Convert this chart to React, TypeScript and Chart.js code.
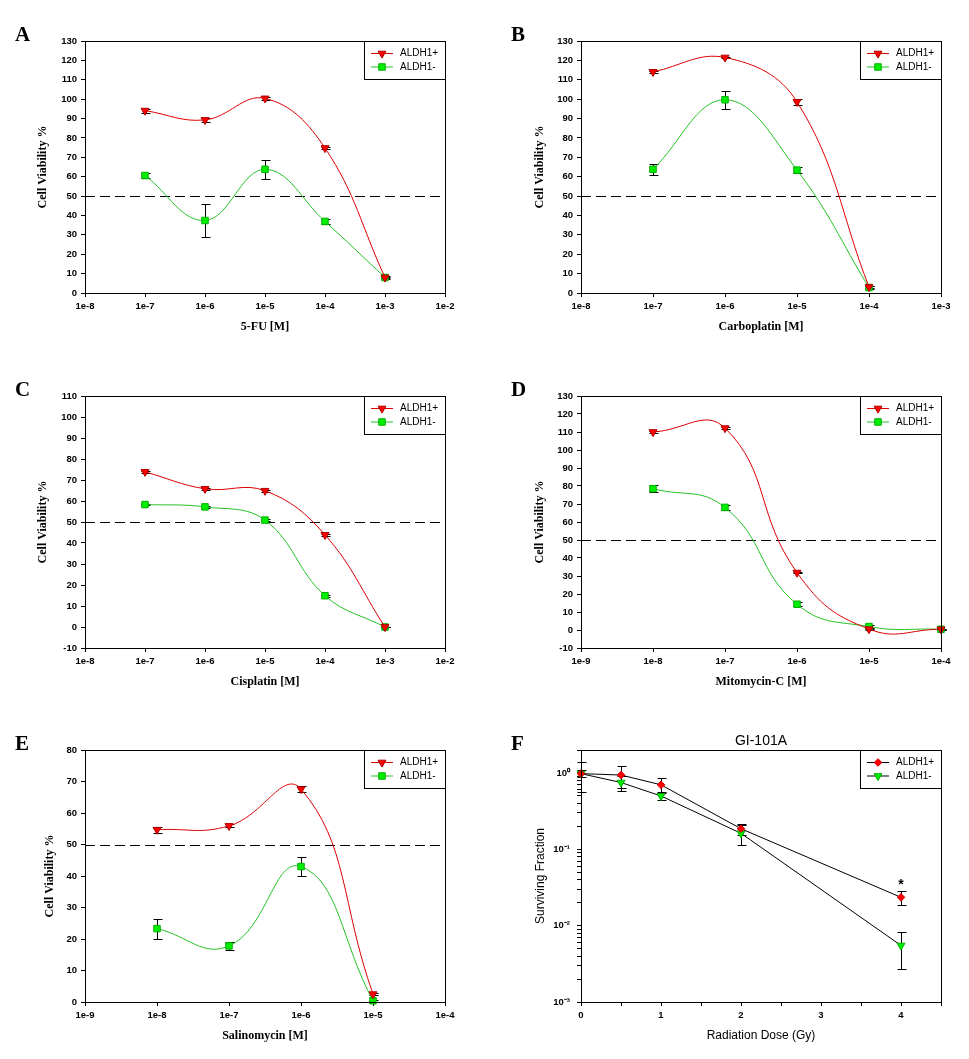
import React, { useEffect, useRef } from 'react';
import { Chart, registerables } from 'chart.js';
import { drawPoint } from 'chart.js/helpers';

Chart.register(...registerables);

// ---------------- DATA ----------------
const SERIES_LABELS = ['ALDH1+', 'ALDH1-'];
const HALF_VIABILITY = 50;

// A: 5-FU
const FU_CONC = [1e-7, 1e-6, 1e-5, 1e-4, 1e-3];
const FU_POS = [94.1, 89.3, 100.4, 74.8, 8.0];
const FU_POS_ERR = [1.0, 1.1, 0.8, 0.6, 0.4];
const FU_NEG = [60.6, 37.4, 63.8, 36.9, 8.0];
const FU_NEG_ERR = [1.2, 8.5, 4.8, 1.2, 0.6];
const FU_X_TICKS = [1e-8, 1e-7, 1e-6, 1e-5, 1e-4, 1e-3, 1e-2];
const FU_X_LABELS = ['1e-8', '1e-7', '1e-6', '1e-5', '1e-4', '1e-3', '1e-2'];

// B: Carboplatin
const CARBO_CONC = [1e-7, 1e-6, 1e-5, 1e-4];
const CARBO_POS = [114.1, 121.5, 98.6, 3.1];
const CARBO_POS_ERR = [0.6, 0.5, 1.5, 0.5];
const CARBO_NEG = [63.8, 99.7, 63.4, 2.8];
const CARBO_NEG_ERR = [2.8, 4.6, 1.5, 0.6];
const CARBO_X_TICKS = [1e-8, 1e-7, 1e-6, 1e-5, 1e-4, 1e-3];
const CARBO_X_LABELS = ['1e-8', '1e-7', '1e-6', '1e-5', '1e-4', '1e-3'];

// C: Cisplatin
const CIS_CONC = [1e-7, 1e-6, 1e-5, 1e-4, 1e-3];
const CIS_POS = [73.9, 65.8, 64.9, 43.9, 0.0];
const CIS_POS_ERR = [0.4, 0.5, 0.4, 0.5, 0.2];
const CIS_NEG = [58.3, 57.2, 50.9, 14.9, 0.0];
const CIS_NEG_ERR = [0.4, 0.4, 0.5, 0.4, 0.2];
const CIS_X_TICKS = [1e-8, 1e-7, 1e-6, 1e-5, 1e-4, 1e-3, 1e-2];
const CIS_X_LABELS = ['1e-8', '1e-7', '1e-6', '1e-5', '1e-4', '1e-3', '1e-2'];

// D: Mitomycin-C
const MITO_CONC = [1e-8, 1e-7, 1e-6, 1e-5, 1e-4];
const MITO_POS = [110.0, 112.2, 31.9, 0.5, 0.4];
const MITO_POS_ERR = [0.8, 0.6, 0.5, 0.3, 0.2];
const MITO_NEG = [78.5, 68.1, 14.3, 1.9, 0.4];
const MITO_NEG_ERR = [2.0, 1.5, 1.0, 1.0, 0.3];
const MITO_X_TICKS = [1e-9, 1e-8, 1e-7, 1e-6, 1e-5, 1e-4];
const MITO_X_LABELS = ['1e-9', '1e-8', '1e-7', '1e-6', '1e-5', '1e-4'];

// E: Salinomycin
const SALI_CONC = [1e-8, 1e-7, 1e-6, 1e-5];
const SALI_POS = [54.7, 55.9, 67.6, 2.5];
const SALI_POS_ERR = [1.0, 0.5, 1.0, 0.3];
const SALI_NEG = [23.3, 17.8, 43.0, 0.4];
const SALI_NEG_ERR = [3.2, 1.2, 2.9, 0.3];
const SALI_X_TICKS = [1e-9, 1e-8, 1e-7, 1e-6, 1e-5, 1e-4];
const SALI_X_LABELS = ['1e-9', '1e-8', '1e-7', '1e-6', '1e-5', '1e-4'];

// F: Radiation, GI-101A
const DOSE = [0, 0.5, 1, 2, 4];
const SF_POS = [0.98, 0.94, 0.70, 0.186, 0.0235];
const SF_POS_ERR = [0.10, 0.31, 0.16, 0.03, 0.005];
const SF_NEG = [0.98, 0.75, 0.50, 0.162, 0.0055];
const SF_NEG_ERR = [0.42, 0.17, 0.06, 0.048, 0.0028];
const DOSE_TICKS = [0, 0.5, 1, 1.5, 2, 2.5, 3, 3.5, 4, 4.5];
const DOSE_LABELS = ['0', '', '1', '', '2', '', '3', '', '4', ''];
const SF_DECADES = [1e-3, 1e-2, 1e-1, 1];
const SF_DECADE_LABELS = ['10\u207B\u00B3', '10\u207B\u00B2', '10\u207B\u00B9', '10\u2070'];
const SIGNIF_MARK = { dose: 4, sf: 0.038, text: '*' };

// ---------------- STYLES ----------------
const SANS = '"Liberation Sans", Arial, sans-serif';
const SERIF = '"Liberation Serif", "Times New Roman", serif';
const CANVAS_W = 460;
const CANVAS_H = 337;
const COL_LEFT = [0, 496];
const ROW_TOP = [6, 361, 715];

const POS_STYLE = { line: '#dd0000', fill: '#ff0000', border: '#b00000', pointStyle: 'triangle', rotation: 180, radius: 4.6 };
const NEG_STYLE = { line: '#22c322', fill: '#00ee00', border: '#00b000', pointStyle: 'rect', rotation: 0, radius: 4.6 };
const F_POS_STYLE = { line: '#000000', fill: '#ff0000', border: '#d00000', pointStyle: 'rectRot', rotation: 0, radius: 3.8 };
const F_NEG_STYLE = { line: '#000000', fill: '#00ee00', border: '#00b000', pointStyle: 'triangle', rotation: 180, radius: 4.6 };

type Series = { label: string; xs: number[]; ys: number[]; errs: number[]; style: any };
type Spec = {
  letter: string; col: number; row: number;
  xType: string; xMin: number; xMax: number; xTicks: number[]; xLabels: string[];
  yType: string; yMin: number; yMax: number; yStep?: number;
  xTitle: string; yTitle: string; serifTitles: boolean; yTitleX: number;
  half: number | null; tension: number; series: Series[];
  title?: string; mark?: any; yTickPad: number;
};

const mk = (ys: number[], xs: number[], errs: number[], label: string, style: any): Series => ({ label, xs, ys, errs, style });

const SPECS: Spec[] = [
  {
    letter: 'A', col: 0, row: 0, xType: 'logarithmic', xMin: 1e-8, xMax: 1e-2, xTicks: FU_X_TICKS, xLabels: FU_X_LABELS,
    yType: 'linear', yMin: 0, yMax: 130, yStep: 10, xTitle: '5-FU [M]', yTitle: 'Cell Viability %', serifTitles: true, yTitleX: 43,
    half: HALF_VIABILITY, tension: 0.4, yTickPad: 4,
    series: [mk(FU_POS, FU_CONC, FU_POS_ERR, SERIES_LABELS[0], POS_STYLE), mk(FU_NEG, FU_CONC, FU_NEG_ERR, SERIES_LABELS[1], NEG_STYLE)],
  },
  {
    letter: 'B', col: 1, row: 0, xType: 'logarithmic', xMin: 1e-8, xMax: 1e-3, xTicks: CARBO_X_TICKS, xLabels: CARBO_X_LABELS,
    yType: 'linear', yMin: 0, yMax: 130, yStep: 10, xTitle: 'Carboplatin [M]', yTitle: 'Cell Viability %', serifTitles: true, yTitleX: 44,
    half: HALF_VIABILITY, tension: 0.4, yTickPad: 4,
    series: [mk(CARBO_POS, CARBO_CONC, CARBO_POS_ERR, SERIES_LABELS[0], POS_STYLE), mk(CARBO_NEG, CARBO_CONC, CARBO_NEG_ERR, SERIES_LABELS[1], NEG_STYLE)],
  },
  {
    letter: 'C', col: 0, row: 1, xType: 'logarithmic', xMin: 1e-8, xMax: 1e-2, xTicks: CIS_X_TICKS, xLabels: CIS_X_LABELS,
    yType: 'linear', yMin: -10, yMax: 110, yStep: 10, xTitle: 'Cisplatin [M]', yTitle: 'Cell Viability %', serifTitles: true, yTitleX: 43,
    half: HALF_VIABILITY, tension: 0.4, yTickPad: 4,
    series: [mk(CIS_POS, CIS_CONC, CIS_POS_ERR, SERIES_LABELS[0], POS_STYLE), mk(CIS_NEG, CIS_CONC, CIS_NEG_ERR, SERIES_LABELS[1], NEG_STYLE)],
  },
  {
    letter: 'D', col: 1, row: 1, xType: 'logarithmic', xMin: 1e-9, xMax: 1e-4, xTicks: MITO_X_TICKS, xLabels: MITO_X_LABELS,
    yType: 'linear', yMin: -10, yMax: 130, yStep: 10, xTitle: 'Mitomycin-C [M]', yTitle: 'Cell Viability %', serifTitles: true, yTitleX: 44,
    half: HALF_VIABILITY, tension: 0.45, yTickPad: 4,
    series: [mk(MITO_POS, MITO_CONC, MITO_POS_ERR, SERIES_LABELS[0], POS_STYLE), mk(MITO_NEG, MITO_CONC, MITO_NEG_ERR, SERIES_LABELS[1], NEG_STYLE)],
  },
  {
    letter: 'E', col: 0, row: 2, xType: 'logarithmic', xMin: 1e-9, xMax: 1e-4, xTicks: SALI_X_TICKS, xLabels: SALI_X_LABELS,
    yType: 'linear', yMin: 0, yMax: 80, yStep: 10, xTitle: 'Salinomycin [M]', yTitle: 'Cell Viability %', serifTitles: true, yTitleX: 50,
    half: HALF_VIABILITY, tension: 0.45, yTickPad: 4,
    series: [mk(SALI_POS, SALI_CONC, SALI_POS_ERR, SERIES_LABELS[0], POS_STYLE), mk(SALI_NEG, SALI_CONC, SALI_NEG_ERR, SERIES_LABELS[1], NEG_STYLE)],
  },
  {
    letter: 'F', col: 1, row: 2, xType: 'linear', xMin: 0, xMax: 4.5, xTicks: DOSE_TICKS, xLabels: DOSE_LABELS,
    yType: 'logarithmic', yMin: 1e-3, yMax: 2, xTitle: 'Radiation Dose (Gy)', yTitle: 'Surviving Fraction', serifTitles: false, yTitleX: 45,
    half: null, tension: 0, yTickPad: 7, title: 'GI-101A', mark: SIGNIF_MARK,
    series: [mk(SF_POS, DOSE, SF_POS_ERR, SERIES_LABELS[0], F_POS_STYLE), mk(SF_NEG, DOSE, SF_NEG_ERR, SERIES_LABELS[1], F_NEG_STYLE)],
  },
];

function logTicks(): { value: number; label: string }[] {
  const out: { value: number; label: string }[] = [];
  SF_DECADES.forEach((d, i) => {
    out.push({ value: d, label: SF_DECADE_LABELS[i] });
    for (let m = 2; m <= 9; m++) {
      const v = d * m;
      if (v <= 2 + 1e-9) out.push({ value: v, label: '' });
    }
  });
  return out;
}

function makeDecor(spec: Spec) {
  return {
    id: 'decor' + spec.letter,
    beforeDatasetsDraw(chart: any) {
      const { ctx, chartArea: a, scales } = chart;
      const ys = scales.y;
      ctx.save();
      if (spec.half !== null) {
        const py = Math.round(ys.getPixelForValue(spec.half)) + 0.5;
        ctx.strokeStyle = '#000';
        ctx.lineWidth = 1;
        ctx.setLineDash([10, 5]);
        ctx.beginPath();
        ctx.moveTo(a.left, py);
        ctx.lineTo(a.right, py);
        ctx.stroke();
        ctx.setLineDash([]);
      }
      chart.data.datasets.forEach((ds: any, i: number) => {
        const meta = chart.getDatasetMeta(i);
        const errs: number[] = ds.errorBars;
        if (!errs) return;
        ctx.strokeStyle = '#000';
        ctx.lineWidth = 1;
        meta.data.forEach((pt: any, j: number) => {
          const v = ds.data[j].y;
          const e = errs[j];
          const x = Math.round(pt.x) + 0.5;
          const t = Math.round(ys.getPixelForValue(v + e)) + 0.5;
          const b = Math.round(ys.getPixelForValue(v - e)) + 0.5;
          ctx.beginPath();
          ctx.moveTo(x, t); ctx.lineTo(x, b);
          ctx.moveTo(x - 4, t); ctx.lineTo(x + 5, t);
          ctx.moveTo(x - 4, b); ctx.lineTo(x + 5, b);
          ctx.stroke();
        });
      });
      ctx.restore();
    },
    afterDraw(chart: any) {
      const { ctx, chartArea: a, scales } = chart;
      ctx.save();
      // frame
      ctx.strokeStyle = '#000';
      ctx.lineWidth = 1;
      const l = Math.round(a.left) + 0.5, t = Math.round(a.top) + 0.5;
      const r = Math.round(a.right) + 0.5, b = Math.round(a.bottom) + 0.5;
      ctx.strokeRect(l, t, r - l, b - t);
      // panel letter
      ctx.fillStyle = '#000';
      ctx.font = 'bold 21px ' + SERIF;
      ctx.textAlign = 'left';
      ctx.textBaseline = 'alphabetic';
      ctx.fillText(spec.letter, 15, 34.5);
      // title
      if (spec.title) {
        ctx.font = '14px ' + SANS;
        ctx.textAlign = 'center';
        ctx.textBaseline = 'middle';
        ctx.fillText(spec.title, (a.left + a.right) / 2, a.top - 9);
      }
      if (spec.mark) {
        const mx = scales.x.getPixelForValue(spec.mark.dose);
        const my = scales.y.getPixelForValue(spec.mark.sf);
        ctx.font = 'bold 14px ' + SANS;
        ctx.textAlign = 'center';
        ctx.textBaseline = 'alphabetic';
        ctx.fillText(spec.mark.text, mx, my + 8);
      }
      // legend
      const bw = 81, bh = 38;
      const bx = Math.round(a.right) - bw;
      const by = Math.round(a.top);
      ctx.fillStyle = '#fff';
      ctx.fillRect(bx, by, bw, bh);
      ctx.strokeStyle = '#000';
      ctx.strokeRect(bx + 0.5, by + 0.5, bw, bh);
      spec.series.forEach((s, i) => {
        const cy = by + 12.5 + i * 13.5;
        ctx.strokeStyle = s.style.line;
        ctx.lineWidth = 1;
        ctx.beginPath();
        ctx.moveTo(bx + 7, cy);
        ctx.lineTo(bx + 29, cy);
        ctx.stroke();
        ctx.fillStyle = s.style.fill;
        ctx.strokeStyle = s.style.border;
        drawPoint(ctx, { pointStyle: s.style.pointStyle, rotation: s.style.rotation, radius: s.style.radius, borderWidth: 1 }, bx + 18, cy);
        ctx.fillStyle = '#000';
        ctx.font = '10px ' + SANS;
        ctx.textAlign = 'left';
        ctx.textBaseline = 'middle';
        ctx.fillText(s.label, bx + 36, cy);
      });
      ctx.restore();
    },
  };
}

function buildConfig(spec: Spec): any {
  const tickFont = { family: SANS, size: 9.5, weight: 'bold' as const };
  const titleFont = spec.serifTitles
    ? { family: SERIF, size: 12, weight: 'bold' as const, lineHeight: 1.2 }
    : { family: SANS, size: 12, weight: 'normal' as const, lineHeight: 1.2 };
  const xTickObjs = spec.xTicks.map((v, i) => ({ value: v, label: spec.xLabels[i] }));
  const yTickObjs = spec.yType === 'logarithmic' ? logTicks() : null;
  const grid = { display: true, drawOnChartArea: false, drawTicks: true, tickLength: 4, color: '#000', tickColor: '#000', lineWidth: 1 };

  return {
    type: 'line',
    data: {
      datasets: spec.series.map((s) => ({
        label: s.label,
        data: s.xs.map((x, i) => ({ x, y: s.ys[i] })),
        errorBars: s.errs,
        borderColor: s.style.line,
        borderWidth: 1,
        backgroundColor: s.style.fill,
        pointBackgroundColor: s.style.fill,
        pointBorderColor: s.style.border,
        pointBorderWidth: 1,
        pointStyle: s.style.pointStyle,
        pointRotation: s.style.rotation,
        pointRadius: s.style.radius,
        tension: spec.tension,
        fill: false,
        clip: false,
      })),
    },
    options: {
      responsive: false,
      animation: false,
      devicePixelRatio: 1,
      layout: { padding: { left: 0, top: 35, right: 15, bottom: 0 } },
      plugins: { legend: { display: false }, tooltip: { enabled: false }, title: { display: false } },
      scales: {
        x: {
          type: spec.xType,
          min: spec.xMin,
          max: spec.xMax,
          afterBuildTicks: (s: any) => { s.ticks = xTickObjs.map((o) => ({ value: o.value })); },
          afterFit: (s: any) => { s.height = 50; },
          ticks: {
            autoSkip: false, maxRotation: 0, minRotation: 0, padding: 4, color: '#000', font: tickFont,
            callback: (_v: any, i: number) => xTickObjs[i] ? xTickObjs[i].label : '',
          },
          grid,
          border: { display: true, color: '#000', width: 1 },
          title: { display: true, text: spec.xTitle, color: '#000', font: titleFont, padding: { top: 0, bottom: 8.8 } },
        },
        y: {
          type: spec.yType,
          min: spec.yMin,
          max: spec.yMax,
          afterBuildTicks: yTickObjs ? (s: any) => { s.ticks = yTickObjs.map((o) => ({ value: o.value })); } : undefined,
          afterFit: (s: any) => { s.width = 85; },
          ticks: {
            autoSkip: false, padding: spec.yTickPad, color: '#000', font: tickFont,
            stepSize: spec.yStep,
            callback: yTickObjs
              ? (_v: any, i: number) => (yTickObjs[i] ? yTickObjs[i].label : '')
              : (v: any) => String(v),
          },
          grid,
          border: { display: true, color: '#000', width: 1 },
          title: { display: true, text: spec.yTitle, color: '#000', font: titleFont, padding: { top: spec.yTitleX - 7.2, bottom: 0 } },
        },
      },
    },
    plugins: [makeDecor(spec)],
  };
}

function Panel({ spec }: { spec: Spec }) {
  const ref = useRef<HTMLCanvasElement | null>(null);
  useEffect(() => {
    if (!ref.current) return;
    const chart = new Chart(ref.current, buildConfig(spec));
    return () => chart.destroy();
  }, [spec]);
  return (
    <canvas
      ref={ref}
      width={CANVAS_W}
      height={CANVAS_H}
      style={{ position: 'absolute', left: COL_LEFT[spec.col], top: ROW_TOP[spec.row], width: CANVAS_W, height: CANVAS_H }}
    />
  );
}

export default function App() {
  return (
    <div style={{ position: 'absolute', left: 0, top: 0, width: 969, height: 1059, background: '#fff', overflow: 'hidden' }}>
      {SPECS.map((s) => (
        <Panel key={s.letter} spec={s} />
      ))}
    </div>
  );
}
